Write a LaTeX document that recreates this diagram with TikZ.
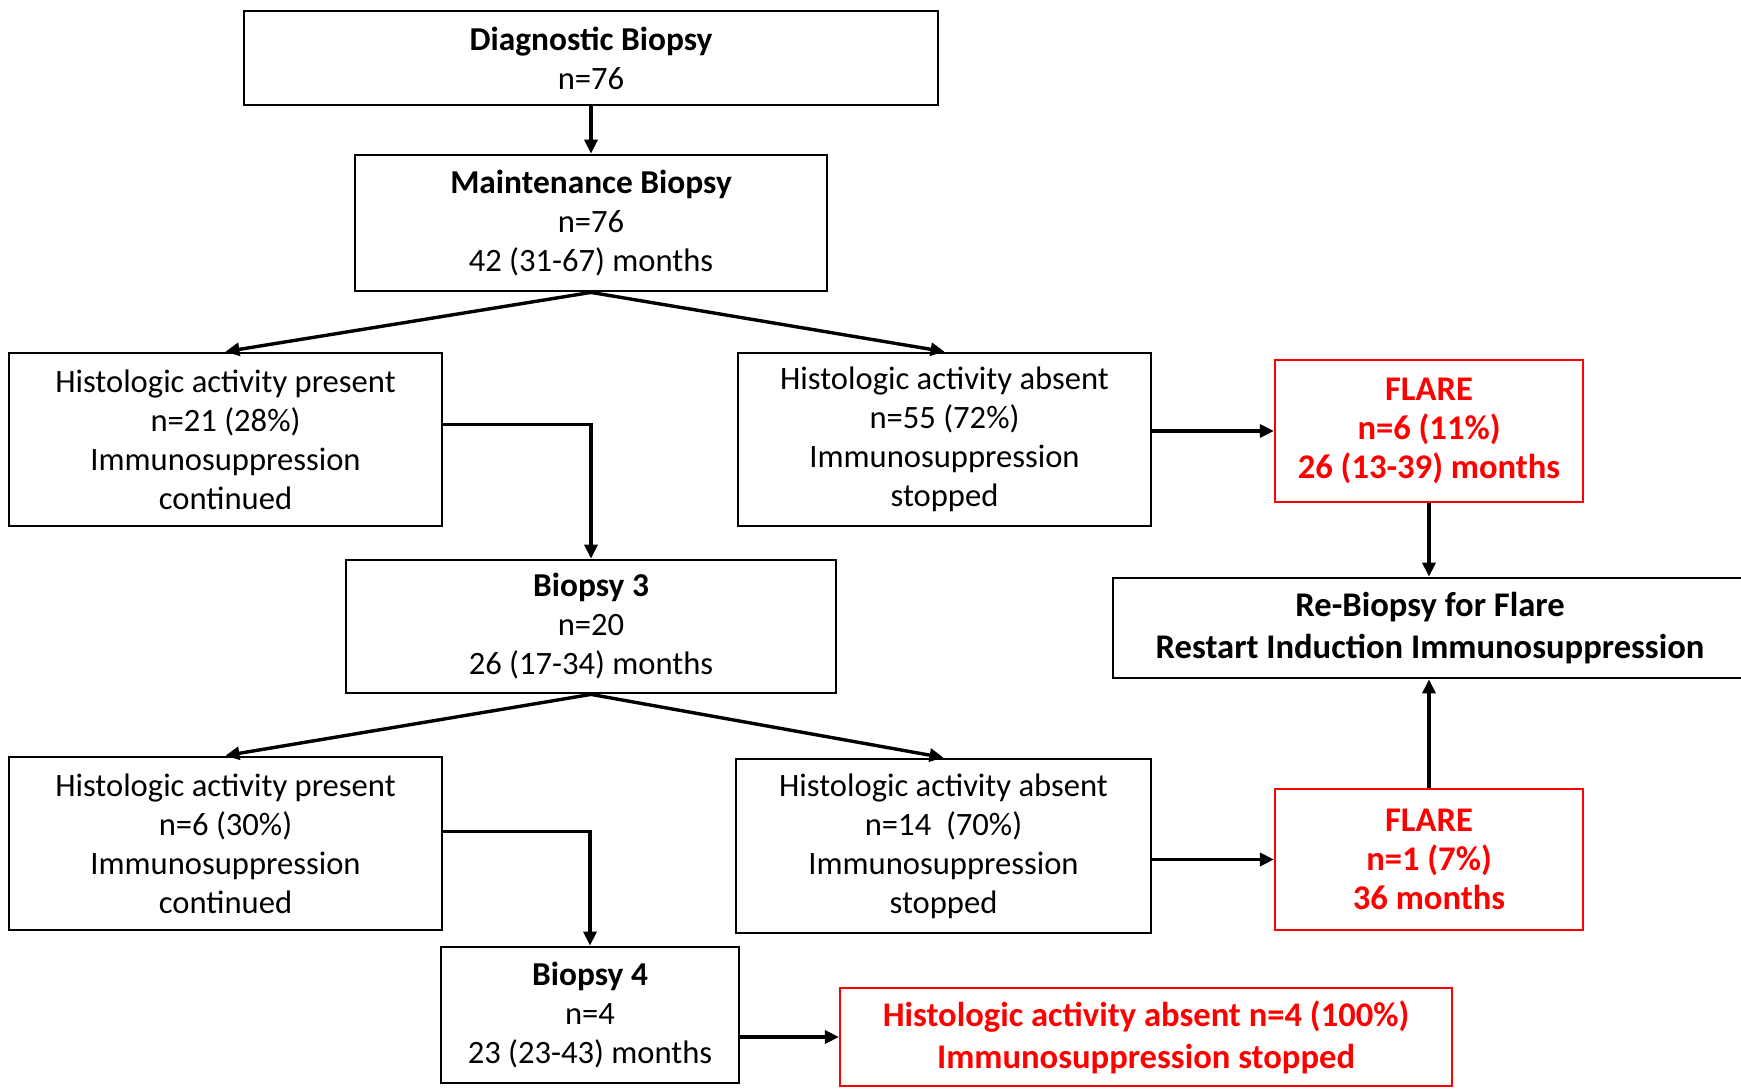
\documentclass[tikz,border=0pt]{standalone}
\usepackage{fontspec}
\setmainfont{Carlito}
\usetikzlibrary{arrows.meta}
\tikzset{
  box/.style={draw=black, line width=2.8pt, rectangle, inner sep=0pt, align=center,
    font=\fontsize{32.6}{39}\selectfont},
  redbox/.style={box, draw=red, line width=2.2pt, text=red, font=\fontsize{34.6}{39}\selectfont\bfseries},
  bigbold/.style={font=\fontsize{34.6}{39}\selectfont\bfseries},
  arr/.style={line width=3.4pt, -{Triangle[length=14pt,width=13pt]}},
}
\begin{document}
\begin{tikzpicture}[x=1pt,y=-1pt]
\useasboundingbox (0,0) rectangle (1741,1088);
\node[box, minimum width=694pt, minimum height=94pt] (diag) at (591,58)
  {{\fontsize{33.4}{39}\selectfont\bfseries Diagnostic Biopsy}\\n=76};
\node[box, minimum width=472pt, minimum height=136pt] (maint) at (591,223)
  {{\fontsize{33.4}{39}\selectfont\bfseries Maintenance Biopsy}\\n=76\\42 (31-67) months};
\node[box, minimum width=433pt, minimum height=173pt] (hap1) at (225.5,439.5)
  {Histologic activity present\\n=21 (28\%)\\Immunosuppression\\continued};
\node[box, minimum width=413pt, minimum height=173pt] (haa1) at (944.5,439.5)
  {Histologic activity absent\\n=55 (72\%)\\Immunosuppression\\stopped};
\node[redbox, minimum width=308pt, minimum height=142pt] (fl1) at (1429,431)
  {FLARE\\n=6 (11\%)\\26 (13-39) months};
\node[box, bigbold, minimum width=634pt, minimum height=100pt] (rb) at (1430,628)
  {Re-Biopsy for Flare\\[3pt]Restart Induction Immunosuppression};
\node[box, minimum width=490pt, minimum height=133pt] (b3) at (591,626.5)
  {{\fontsize{33.4}{39}\selectfont\bfseries Biopsy 3}\\n=20\\26 (17-34) months};
\node[box, minimum width=433pt, minimum height=173pt] (hap2) at (225.5,843.5)
  {Histologic activity present\\n=6 (30\%)\\Immunosuppression\\continued};
\node[box, minimum width=415pt, minimum height=174pt] (haa2) at (943.5,846)
  {Histologic activity absent\\n=14~~(70\%)\\Immunosuppression\\stopped};
\node[redbox, minimum width=308pt, minimum height=141pt] (fl2) at (1429,859.5)
  {FLARE\\n=1 (7\%)\\36 months};
\node[box, minimum width=298pt, minimum height=136pt] (b4) at (590,1015)
  {{\fontsize{33.4}{39}\selectfont\bfseries Biopsy 4}\\n=4\\23 (23-43) months};
\node[redbox, minimum width=612pt, minimum height=98pt] (fin) at (1146,1037)
  {Histologic activity absent n=4 (100\%)\\[3pt]Immunosuppression stopped};

\draw[arr] (diag.south) -- (maint.north);
\draw[arr] (maint.south) -- (hap1.north);
\draw[arr] (maint.south) -- (haa1.north);
\draw[arr] ([yshift=15pt]hap1.east) -| (b3.north);
\draw[arr] (haa1.east |- fl1.west) -- (fl1.west);
\draw[arr] (fl1.south) -- (fl1.south |- rb.north);
\draw[arr] (b3.south) -- (hap2.north);
\draw[arr] (b3.south) -- (haa2.north);
\draw[arr] ([yshift=12pt]hap2.east) -| (b4.north);
\draw[arr] (haa2.east |- fl2.west) -- (fl2.west);
\draw[arr] (fl2.north) -- (fl2.north |- rb.south);
\draw[arr] (b4.east |- fin.west) -- (fin.west);
\end{tikzpicture}
\end{document}
